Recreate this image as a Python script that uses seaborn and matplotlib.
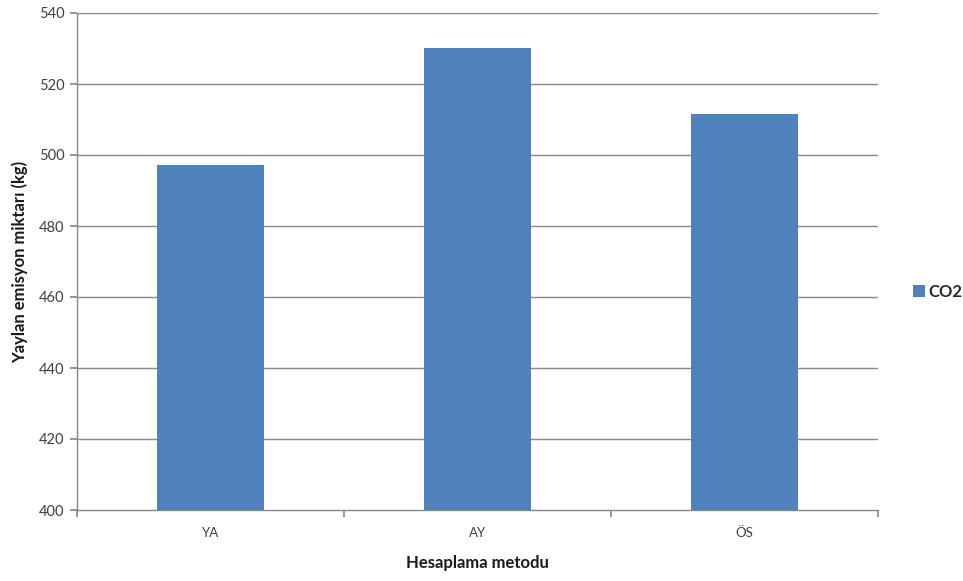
import matplotlib
matplotlib.use("Agg")
import matplotlib.pyplot as plt
import seaborn as sns
import pandas as pd
from matplotlib.patches import Patch

methods = ["YA", "AY", "ÖS"]
co2_kg = [497.2, 530.2, 511.6]
y_ticks = [400, 420, 440, 460, 480, 500, 520, 540]

sns.set_theme(style="white")
plt.rcParams["font.family"] = ["Lato", "DejaVu Sans"]

df = pd.DataFrame({"Hesaplama metodu": methods, "CO2": co2_kg})

fig = plt.figure(figsize=(9.63, 5.81), dpi=100)
ax = fig.add_axes([77 / 963, 1 - 510 / 581, 801 / 963, 497 / 581])

sns.barplot(data=df, x="Hesaplama metodu", y="CO2", color="#4F81BD",
            width=0.4, saturation=1, linewidth=0, edgecolor="none",
            ax=ax, zorder=3)

grid_c = "#878787"
ax.set_ylim(400, 540)
ax.set_xlim(-0.5, 2.5)
ax.set_yticks(y_ticks)
ax.set_yticklabels([str(v) for v in y_ticks], fontsize=10.5, color="#404040")
for v in y_ticks[1:]:
    ax.axhline(v, color=grid_c, lw=1.0, zorder=1)

# category boundary ticks on x
ax.set_xticks([-0.5, 0.5, 1.5, 2.5], minor=False)
ax.set_xticklabels([])
ax.set_xticks([0, 1, 2], minor=True)
ax.set_xticklabels(methods, minor=True, fontsize=9.5, color="#404040")
ax.tick_params(axis="x", which="major", direction="out", length=5, color=grid_c, bottom=True)
ax.tick_params(axis="x", which="minor", length=0, pad=12)
ax.tick_params(axis="y", direction="out", length=5, color=grid_c, left=True, pad=4)

for side in ["top", "right"]:
    ax.spines[side].set_visible(False)
for side in ["left", "bottom"]:
    ax.spines[side].set_color(grid_c)
    ax.spines[side].set_linewidth(1.0)

ax.set_xlabel("Hesaplama metodu", fontsize=12, fontweight="bold", labelpad=12, color="#1a1a1a")
ax.set_ylabel("Yaylan emisyon miktarı (kg)", fontsize=12, fontweight="bold", labelpad=8, color="#1a1a1a")

handles = [Patch(facecolor="#4F81BD", edgecolor="none", label="CO2")]
fig.legend(handles=handles, loc="center left", bbox_to_anchor=(898 / 963, 1 - 292 / 581),
           frameon=False, handlelength=0.7, handleheight=0.7, handletextpad=0.2,
           prop={"weight": "bold", "size": 12})

fig.savefig("out.png", dpi=100)
